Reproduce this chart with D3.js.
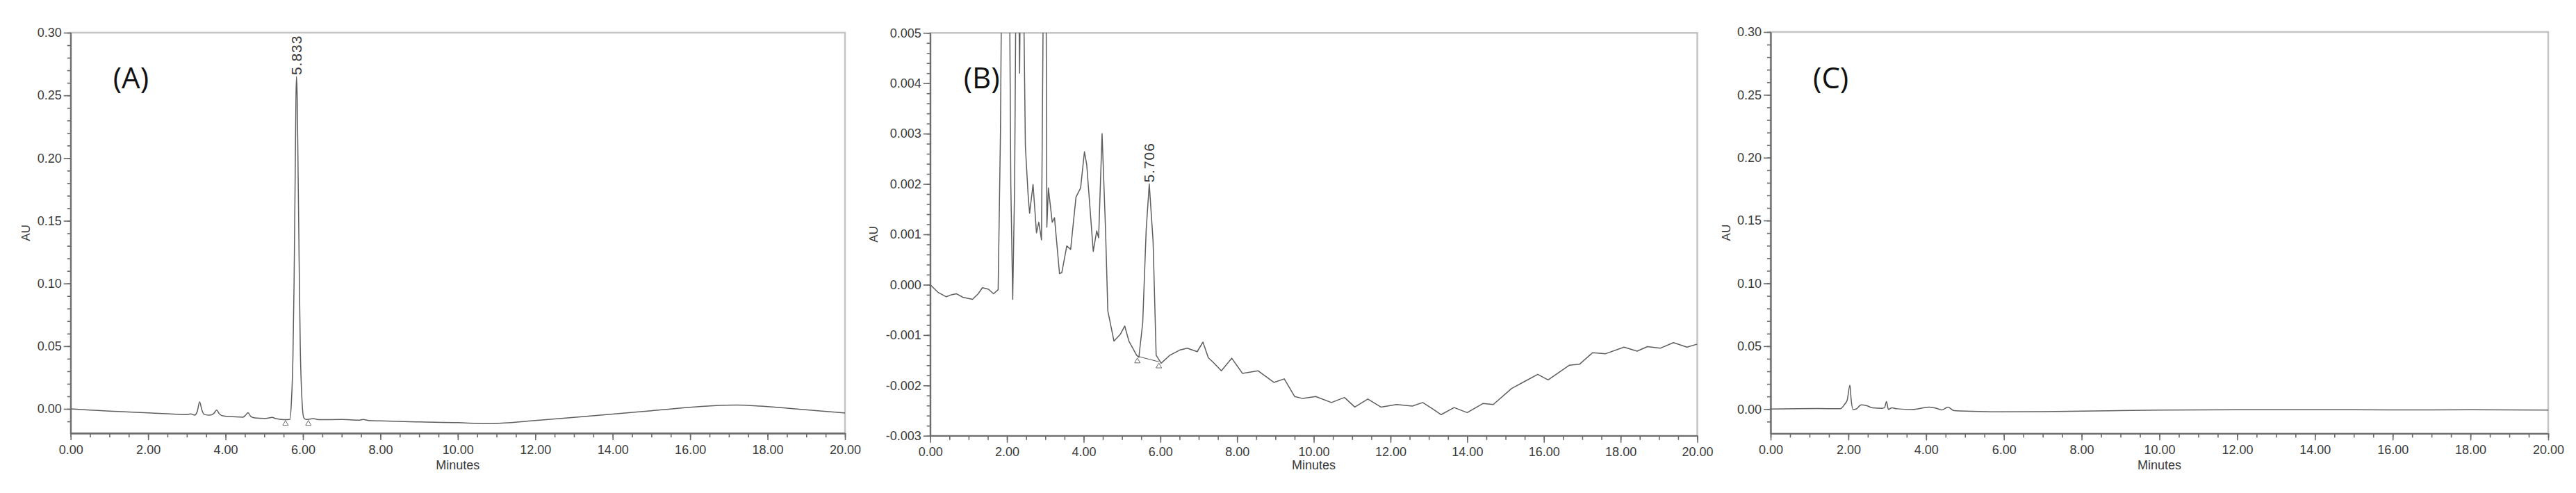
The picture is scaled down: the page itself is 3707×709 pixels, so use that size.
<!DOCTYPE html>
<html>
<head>
<meta charset="utf-8">
<script src="https://cdn.jsdelivr.net/npm/d3@7"></script>
<style>
  body { margin: 0; background: #fff; }
  svg { display: block; }
  text { font-family: "Liberation Sans", Arial, sans-serif; }
</style>
</head>
<body>
<svg id="chart"></svg>
<script>
// chromatogram traces, [minutes, AU]
var traceA = [[0,0],[0.5,-0.0009],[1,-0.0018],[1.5,-0.0025],[2,-0.0032],[2.5,-0.0039],[3,-0.0045],[3.1,-0.0040],[3.2,-0.0050],
  [3.27,-0.002],[3.33,0.0055],[3.39,-0.001],[3.45,-0.0045],[3.6,-0.0050],[3.7,-0.0035],[3.77,-0.0010],[3.84,-0.0040],[3.95,-0.0057],
  [4.2,-0.0062],[4.45,-0.0066],[4.52,-0.0050],[4.58,-0.0030],[4.65,-0.0060],[4.75,-0.0072],[5.0,-0.0076],[5.12,-0.0072],[5.2,-0.0068],
  [5.3,-0.0078],[5.5,-0.0086],[5.66,-0.0085],[5.70,0.005],[5.74,0.04],[5.77,0.10],[5.80,0.19],[5.82,0.25],[5.833,0.265],[5.85,0.25],
  [5.87,0.20],[5.90,0.12],[5.93,0.05],[5.97,0.01],[6.02,-0.007],[6.08,-0.0085],[6.27,-0.0078],[6.4,-0.0086],[7.0,-0.0085],[7.45,-0.0090],
  [7.55,-0.0084],[7.7,-0.0093],[8,-0.0096],[9,-0.0104],[10,-0.0110],[10.7,-0.0118],[11.2,-0.0112],[12,-0.0093],[13,-0.0068],[14,-0.0042],
  [15,-0.0015],[16,0.0012],[16.6,0.0025],[17.2,0.0030],[17.8,0.0022],[18.5,0.0005],[19.3,-0.0015],[20,-0.0033]];

var traceB = [[0,0],[0.2,-0.00015],[0.42,-0.00024],[0.55,-0.0002],[0.68,-0.00018],[0.85,-0.00025],[1.1,-0.00029],[1.25,-0.00018],
  [1.36,-0.00006],[1.52,-0.00009],[1.65,-0.00018],[1.77,-0.0001],[1.83,0.003],[1.88,0.008],[1.95,0.012],[2.05,0.008],[2.1,0.002],
  [2.15,-0.00029],[2.2,0.002],[2.26,0.009],[2.33,0.0042],[2.38,0.009],[2.43,0.006],[2.48,0.00275],[2.55,0.0018],[2.59,0.00142],
  [2.68,0.00199],[2.77,0.00103],[2.83,0.00124],[2.9,0.00089],[2.95,0.006],[2.99,0.010],[3.02,0.006],[3.04,0.00114],[3.08,0.00192],
  [3.18,0.00124],[3.24,0.00133],[3.37,0.00022],[3.43,0.00024],[3.56,0.00077],[3.66,0.0007],[3.8,0.00174],[3.92,0.00192],[4.02,0.00264],
  [4.08,0.00238],[4.25,0.00066],[4.34,0.00107],[4.39,0.00093],[4.48,0.003],[4.57,0.00109],[4.63,-0.00052],[4.79,-0.00112],[4.96,-0.00098],
  [5.07,-0.00082],[5.18,-0.00112],[5.38,-0.0014],[5.44,-0.00144],[5.54,-0.00075],[5.63,0.00109],[5.71,0.002],[5.81,0.00086],[5.89,-0.0014],
  [6.02,-0.00156],[6.25,-0.0014],[6.5,-0.0013],[6.7,-0.00126],[6.96,-0.00133],[7.11,-0.00114],[7.25,-0.00145],[7.39,-0.00155],
  [7.59,-0.00171],[7.86,-0.00146],[8.14,-0.00176],[8.55,-0.00171],[8.96,-0.00194],[9.23,-0.00187],[9.5,-0.00222],[9.71,-0.00226],
  [10.05,-0.00222],[10.46,-0.00234],[10.8,-0.00224],[11.07,-0.00243],[11.41,-0.00227],[11.75,-0.00243],[12.16,-0.00238],[12.57,-0.00241],
  [12.84,-0.00234],[13.11,-0.00247],[13.32,-0.00258],[13.66,-0.00244],[14.0,-0.00254],[14.41,-0.00236],[14.68,-0.00238],[15.16,-0.00206],
  [15.5,-0.00192],[15.84,-0.00178],[16.11,-0.00189],[16.66,-0.0016],[16.93,-0.00158],[17.27,-0.00135],[17.61,-0.00137],[18.09,-0.00124],
  [18.43,-0.00132],[18.7,-0.00123],[19.04,-0.00126],[19.38,-0.00115],[19.73,-0.00124],[20.0,-0.00118]];

var traceC = [[0,0],[1.2,0.0004],[1.79,0.0002],[1.91,0.004],[1.97,0.007],[2.04,0.019],[2.07,0.008],[2.12,-0.0004],[2.2,0.0],
  [2.33,0.0033],[2.46,0.0028],[2.62,0.001],[2.87,0.0006],[2.93,0.001],[2.98,0.006],[3.03,-0.0004],[3.12,0.001],[3.25,0.0002],
  [3.64,-0.0004],[4.08,0.0015],[4.27,0.0006],[4.4,-0.0007],[4.56,0.0015],[4.72,-0.0013],[5.16,-0.0018],[5.8,-0.0022],[7,-0.0021],
  [8,-0.0017],[10,-0.0009],[12,-0.0006],[14,-0.0005],[16,-0.0007],[18,-0.0006],[20,-0.0009]];

// integration baseline marks
var marksA = [[5.55,-0.0118],[6.14,-0.0118]];
var marksB = [[5.40,-0.00152],[5.96,-0.00162]];
var baselineB = [[5.40,-0.00142],[5.96,-0.00153]];

var peakA = {t: 5.833, v: 0.265, text: "5.833"};
var peakB = {t: 5.706, v: 0.002, text: "5.706"};

var minuteTicks = [0, 2, 4, 6, 8, 10, 12, 14, 16, 18, 20];
var auTicksAC = [0, 0.05, 0.10, 0.15, 0.20, 0.25, 0.30];
var auTicksB = [-0.003, -0.002, -0.001, 0, 0.001, 0.002, 0.003, 0.004, 0.005];

var W = 3707, H = 709;
var svg = d3.select("#chart").attr("width", W).attr("height", H);
svg.append("rect").attr("width", W).attr("height", H).attr("fill", "#fff");

var panels = [
  {name: "A", label: "(A)", trace: traceA, marks: marksA, base: null, peak: peakA,
   left: 101.7, right: 1216, top: 47, bottom: 623, yDomain: [-0.0194, 0.30],
   yTicks: auTicksAC, minorStep: 0.01, fmt: function(d){ return d.toFixed(2); },
   curve: d3.curveMonotoneX, labelDx: 61, auDx: -65},
  {name: "B", label: "(B)", trace: traceB, marks: marksB, base: baselineB, peak: peakB,
   left: 1338.7, right: 2442.5, top: 47.3, bottom: 626.7, yDomain: [-0.003, 0.005],
   yTicks: auTicksB, minorStep: 0.0002, fmt: function(d){ return d.toFixed(3); },
   curve: d3.curveLinear, labelDx: 48, auDx: -82},
  {name: "C", label: "(C)", trace: traceC, marks: [], base: null, peak: null,
   left: 2548, right: 3667, top: 46, bottom: 623.3, yDomain: [-0.0194, 0.30],
   yTicks: auTicksAC, minorStep: 0.01, fmt: function(d){ return d.toFixed(2); },
   curve: d3.curveMonotoneX, labelDx: 61, auDx: -64}
];

panels.forEach(function(p) {
  var x = d3.scaleLinear().domain([0, 20]).range([p.left, p.right]);
  var y = d3.scaleLinear().domain(p.yDomain).range([p.bottom, p.top]);
  var g = svg.append("g");

  g.append("clipPath").attr("id", "clip" + p.name)
    .append("rect").attr("x", p.left).attr("y", p.top)
    .attr("width", p.right - p.left).attr("height", p.bottom - p.top);

  // frame
  g.append("rect").attr("x", p.left).attr("y", p.top)
    .attr("width", p.right - p.left).attr("height", p.bottom - p.top)
    .attr("fill", "none").attr("stroke", "#c4c4c4").attr("stroke-width", 2.5);

  // minor ticks
  var lo = Math.ceil(p.yDomain[0] / p.minorStep), hi = Math.floor(p.yDomain[1] / p.minorStep + 1e-6);
  var yMinor = d3.range(lo, hi + 1).map(function(i){ return i * p.minorStep; });
  g.append("g").attr("transform", "translate(" + p.left + ",0)")
    .call(d3.axisLeft(y).tickValues(yMinor).tickSize(5).tickSizeOuter(0).tickFormat(""));
  g.append("g").attr("transform", "translate(0," + p.bottom + ")")
    .call(d3.axisBottom(x).tickValues(d3.range(0, 20.01, 0.5)).tickSize(6).tickSizeOuter(0).tickFormat(""));

  // major ticks
  var ya = g.append("g").attr("transform", "translate(" + p.left + ",0)")
    .call(d3.axisLeft(y).tickValues(p.yTicks).tickSize(10).tickSizeOuter(0).tickPadding(3).tickFormat(p.fmt));
  var xa = g.append("g").attr("transform", "translate(0," + p.bottom + ")")
    .call(d3.axisBottom(x).tickValues(minuteTicks).tickSize(10).tickSizeOuter(0).tickPadding(7)
      .tickFormat(function(d){ return d.toFixed(2); }));

  g.selectAll(".domain").attr("stroke", "#6a6a6a").attr("stroke-width", 1.8);
  g.selectAll(".tick line").attr("stroke", "#6a6a6a").attr("stroke-width", 1.6);
  g.selectAll(".tick text").attr("fill", "#3a3a3a").style("font-size", "18px")
    .style("font-family", "'Liberation Sans', Arial, sans-serif");

  // trace
  var line = d3.line().x(function(d){ return x(d[0]); }).y(function(d){ return y(d[1]); }).curve(p.curve);
  g.append("path").datum(p.trace).attr("clip-path", "url(#clip" + p.name + ")")
    .attr("d", line).attr("fill", "none").attr("stroke", "#5e5e5e").attr("stroke-width", 1.5)
    .attr("stroke-linejoin", "round");

  if (p.base) {
    g.append("path").datum(p.base).attr("d", d3.line().x(function(d){ return x(d[0]); }).y(function(d){ return y(d[1]); }))
      .attr("fill", "none").attr("stroke", "#5e5e5e").attr("stroke-width", 1.2);
  }

  g.selectAll(".mark").data(p.marks).enter().append("path")
    .attr("transform", function(d){ return "translate(" + x(d[0]) + "," + y(d[1]) + ")"; })
    .attr("d", d3.symbol(d3.symbolTriangle).size(28))
    .attr("fill", "none").attr("stroke", "#6a6a6a").attr("stroke-width", 1);

  if (p.peak) {
    g.append("text")
      .attr("transform", "translate(" + x(p.peak.t) + "," + (y(p.peak.v) - 2) + ") rotate(-90)")
      .attr("dy", "0.36em").attr("text-anchor", "start")
      .style("font-size", "21px").style("letter-spacing", "1px").attr("fill", "#3a3a3a")
      .text(p.peak.text);
  }

  // panel tag
  g.append("text").attr("x", p.left + p.labelDx).attr("y", 127)
    .style("font-family", "'Open Sans', 'Noto Sans', sans-serif").style("font-size", "42px")
    .attr("fill", "#111").text(p.label);

  g.append("text").attr("x", (p.left + p.right) / 2).attr("y", 675)
    .attr("text-anchor", "middle").style("font-size", "18px").attr("fill", "#3a3a3a").text("Minutes");

  g.append("text")
    .attr("transform", "translate(" + (p.left + p.auDx) + "," + ((p.top + p.bottom) / 2) + ") rotate(-90)")
    .attr("text-anchor", "middle").attr("dy", "0.36em")
    .style("font-size", "17px").attr("fill", "#3a3a3a").text("AU");
});
</script>
</body>
</html>
